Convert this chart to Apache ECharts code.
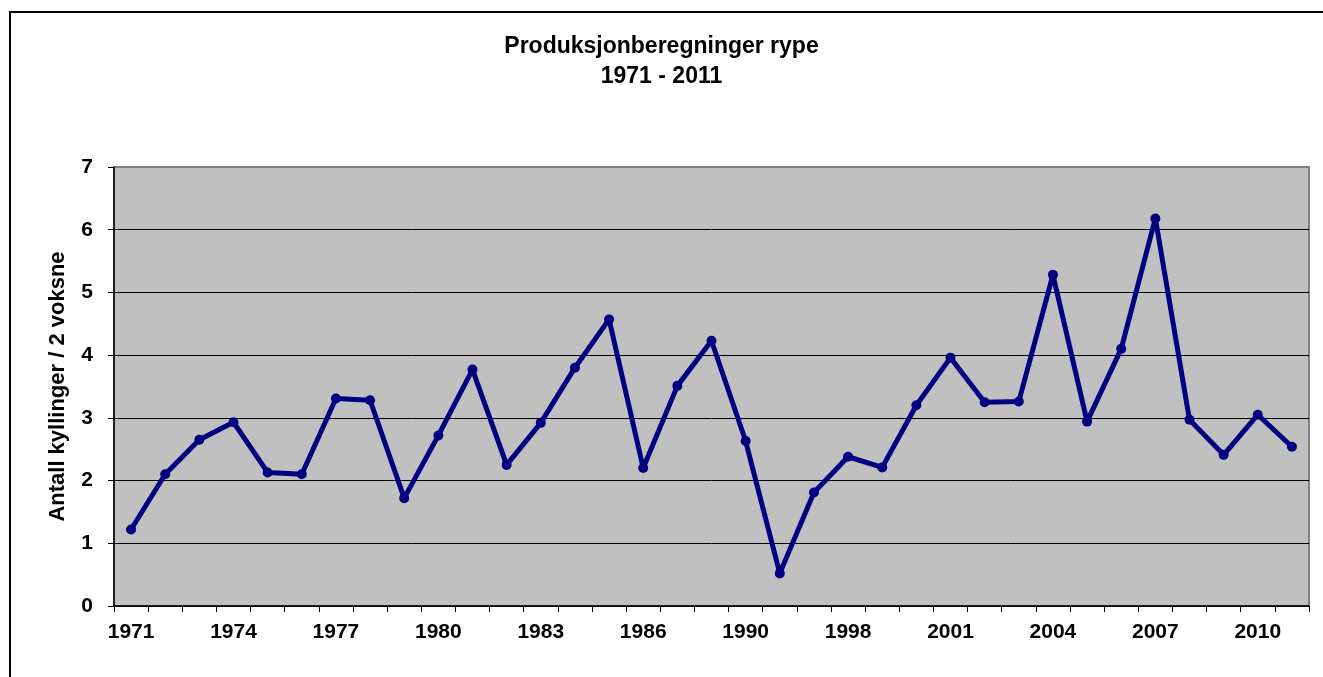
<!DOCTYPE html>
<html>
<head>
<meta charset="utf-8">
<script src="https://cdn.jsdelivr.net/npm/echarts@6/dist/echarts.min.js"></script>
<style>
html,body{margin:0;padding:0;background:#fff;}
#frame{position:absolute;left:9px;top:11px;width:1400px;height:700px;border-left:2px solid #000;border-top:2px solid #000;box-sizing:border-box;}
#chart{position:absolute;left:0;top:0;width:1323px;height:677px;}
</style>
</head>
<body>
<div id="frame"></div>
<div id="chart"></div>
<script>
const years = ['1971','1972','1973','1974','1975','1976','1977','1978','1979','1980','1981','1982','1983','1984','1985','1986','1987','1988','1990','1996','1997','1998','1999','2000','2001','2002','2003','2004','2005','2006','2007','2008','2009','2010','2011'];
const values = [1.22,2.10,2.65,2.93,2.13,2.10,3.31,3.28,1.72,2.72,3.77,2.25,2.92,3.80,4.57,2.20,3.51,4.23,2.63,0.52,1.81,2.38,2.21,3.20,3.96,3.25,3.26,5.28,2.94,4.10,6.18,2.97,2.41,3.05,2.54];
const yTicks = [0,1,2,3,4,5,6,7];
const titleText = 'Produksjonberegninger rype\n1971 - 2011';
const yName = 'Antall kyllinger / 2 voksne';

const FONT = 'Liberation Sans, Arial, sans-serif';
const chart = echarts.init(document.getElementById('chart'), null, {renderer:'canvas'});
chart.setOption({
  animation:false,
  backgroundColor:'transparent',
  textStyle:{fontFamily:FONT},
  title:{
    text:titleText, left:'center', top:27,
    textStyle:{fontSize:23, fontWeight:'bold', color:'#000', lineHeight:30, fontFamily:FONT}
  },
  grid:{left:114, right:14, top:167, bottom:71, show:true, backgroundColor:'#C0C0C0', borderColor:'#808080', borderWidth:2},
  xAxis:{
    type:'category', data:years, boundaryGap:true,
    axisLine:{lineStyle:{color:'#000', width:1.5}},
    axisTick:{show:true, interval:0, length:6, lineStyle:{color:'#000'}},
    axisLabel:{interval:2, color:'#000', fontSize:21, fontWeight:'bold', margin:16, fontFamily:FONT}
  },
  yAxis:{
    type:'value', min:yTicks[0], max:yTicks[yTicks.length-1], interval:1,
    name:yName, nameLocation:'middle', nameGap:45, nameRotate:90,
    nameTextStyle:{fontSize:22, fontWeight:'bold', color:'#000', fontFamily:FONT},
    axisLine:{show:true, lineStyle:{color:'#000', width:1.5}},
    axisTick:{show:true, length:6, lineStyle:{color:'#000'}},
    axisLabel:{color:'#000', fontSize:21, fontWeight:'bold', margin:21, fontFamily:FONT},
    splitLine:{show:true, lineStyle:{color:['#000','#000','#000','#000','#000','#000','#000','#808080'], width:1}}
  },
  series:[{
    type:'line', data:values,
    lineStyle:{color:'#000080', width:5},
    itemStyle:{color:'#000080'},
    symbol:'circle', symbolSize:10, showAllSymbol:true
  }]
});
</script>
</body>
</html>
